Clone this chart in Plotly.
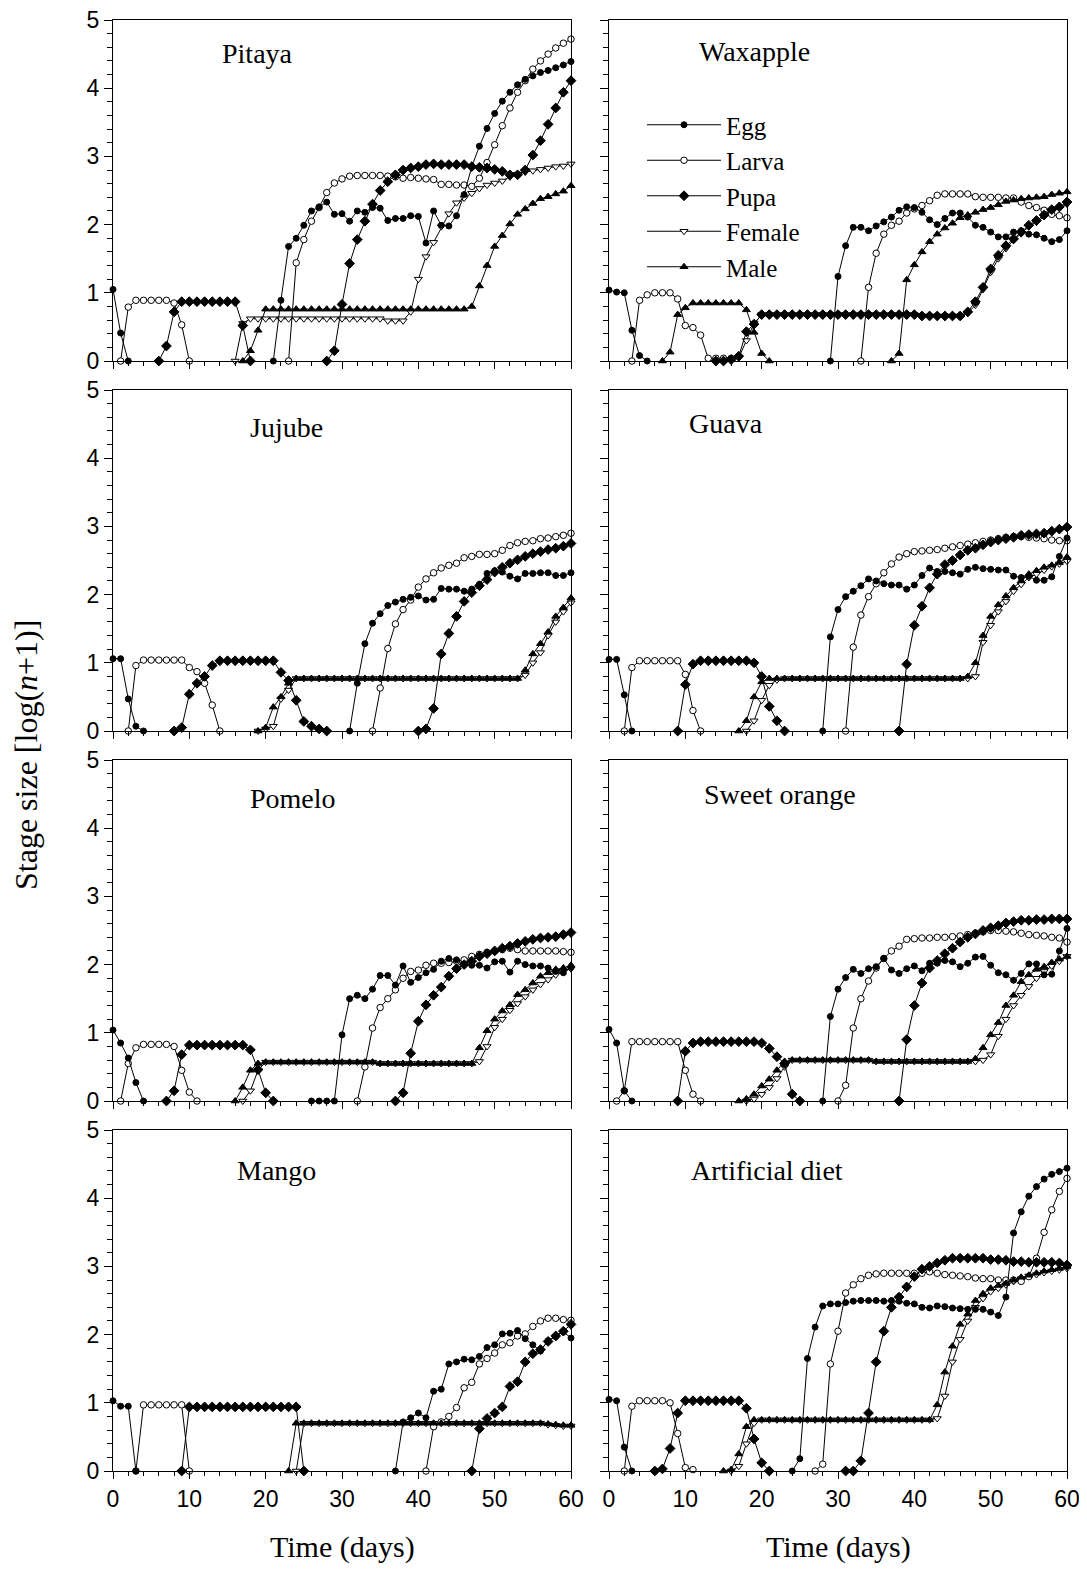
import plotly.graph_objects as go

# ---------------- data ----------------
DAYS = list(range(0, 61))
STAGES = ["Egg", "Larva", "Pupa", "Female", "Male"]
HOSTS = ["Pitaya", "Waxapple", "Jujube", "Guava", "Pomelo", "Sweet orange", "Mango", "Artificial diet"]
X_TICKS = [0, 10, 20, 30, 40, 50, 60]
Y_TICKS = [0, 1, 2, 3, 4, 5]

# each series: list of (first day, values) segments; days outside segments have no data
PITAYA_EGG = [(0, [1.05, 0.41, 0.0]),
              (21, [0.0, 0.89, 1.68, 1.80, 1.99, 2.20, 2.26, 2.33, 2.15, 2.16, 2.05, 2.20, 2.18, 2.25, 2.24, 2.06,
                    2.09, 2.09, 2.13, 2.12, 1.73, 2.20, 1.99, 1.98, 2.13, 2.44, 2.85, 3.15, 3.41, 3.63, 3.81, 3.94,
                    4.05, 4.13, 4.18, 4.23, 4.26, 4.30, 4.34, 4.39])]
PITAYA_LARVA = [(1, [0.0, 0.79, 0.89, 0.89, 0.89, 0.89, 0.89, 0.85, 0.53, 0.0]),
                (23, [0.0, 1.44, 1.78, 2.05, 2.25, 2.47, 2.61, 2.67, 2.71, 2.72, 2.72, 2.72, 2.72, 2.71, 2.70, 2.68,
                      2.69, 2.68, 2.67, 2.66, 2.59, 2.59, 2.58, 2.58, 2.56, 2.68, 2.91, 3.17, 3.45, 3.71, 3.94, 4.11,
                      4.28, 4.40, 4.50, 4.59, 4.66, 4.72])]
PITAYA_PUPA = [(6, [0.0, 0.22, 0.72, 0.87, 0.87, 0.87, 0.87, 0.87, 0.87, 0.87, 0.87, 0.52, 0.0]),
               (28, [0.0, 0.15, 0.83, 1.43, 1.78, 2.05, 2.30, 2.50, 2.63, 2.73, 2.80, 2.83, 2.85, 2.88, 2.89, 2.88,
                     2.88, 2.88, 2.88, 2.85, 2.84, 2.83, 2.81, 2.78, 2.73, 2.73, 2.80, 3.02, 3.23, 3.47, 3.71, 3.94,
                     4.11])]
PITAYA_FEMALE = [(16, [0.0, 0.55] + [0.62] * 18 + [0.59] * 3 +
                  [0.72, 1.20, 1.53, 1.74, 1.97, 2.16, 2.32, 2.39, 2.46, 2.53, 2.58, 2.61, 2.64, 2.70, 2.74, 2.77,
                   2.79, 2.81, 2.83, 2.85, 2.86, 2.89])]
PITAYA_MALE = [(17, [0.0, 0.15, 0.45] + [0.76] * 27 +
                [0.80, 1.10, 1.40, 1.68, 1.84, 2.01, 2.15, 2.23, 2.31, 2.38, 2.41, 2.45, 2.49, 2.57])]

WAXAPPLE_EGG = [(0, [1.04, 1.01, 1.00, 0.45, 0.08, 0.0]),
                (29, [0.0, 1.24, 1.69, 1.96, 1.96, 1.91, 1.98, 2.04, 2.11, 2.21, 2.26, 2.25, 2.18, 2.07, 2.00, 2.09,
                      2.17, 2.17, 2.11, 1.99, 1.96, 1.89, 1.82, 1.82, 1.89, 1.91, 1.86, 1.85, 1.80, 1.75, 1.78, 1.91])]
WAXAPPLE_LARVA = [(3, [0.0, 0.89, 0.97, 1.00, 1.00, 1.00, 0.91, 0.52, 0.49, 0.38, 0.04, 0.04, 0.04, 0.04]),
                  (33, [0.0, 1.08, 1.58, 1.86, 1.99, 2.05, 2.17, 2.23, 2.28, 2.35, 2.43, 2.45, 2.45, 2.45, 2.45, 2.41,
                        2.40, 2.40, 2.40, 2.39, 2.39, 2.33, 2.28, 2.25, 2.21, 2.15, 2.13, 2.10])]
WAXAPPLE_PUPA = [(14, [0.0, 0.0, 0.02, 0.07, 0.43, 0.54, 0.68] + [0.68] * 20 + [0.66] * 6 +
                  [0.72, 0.87, 1.08, 1.35, 1.55, 1.69, 1.79, 1.89, 1.99, 2.06, 2.14, 2.22, 2.26, 2.33])]
WAXAPPLE_FEMALE = [(15, [0.0, 0.02, 0.05, 0.30, 0.55, 0.68] + [0.68] * 20 + [0.66] * 6 +
                    [0.70, 0.82, 1.05, 1.30, 1.50, 1.65, 1.77, 1.87, 1.97, 2.04, 2.12, 2.19, 2.24, 2.30])]
WAXAPPLE_MALE = [(7, [0.0, 0.13, 0.68, 0.78, 0.85, 0.85, 0.85, 0.85, 0.85, 0.85, 0.85, 0.75, 0.42, 0.11, 0.0]),
                 (37, [0.0, 0.11, 1.19, 1.41, 1.60, 1.75, 1.86, 1.95, 2.02, 2.10, 2.14, 2.18, 2.22, 2.25, 2.29, 2.34,
                       2.36, 2.38, 2.39, 2.40, 2.41, 2.44, 2.46, 2.48])]

JUJUBE_EGG = [(0, [1.06, 1.06, 0.47, 0.07, 0.0]),
              (31, [0.0, 0.70, 1.28, 1.58, 1.72, 1.84, 1.89, 1.93, 1.96, 1.98, 1.92, 1.93, 2.09, 2.08, 2.08, 2.05,
                    2.08, 2.15, 2.31, 2.35, 2.33, 2.27, 2.23, 2.31, 2.31, 2.32, 2.32, 2.28, 2.28, 2.32])]
JUJUBE_LARVA = [(2, [0.0, 0.96, 1.04, 1.04, 1.04, 1.04, 1.04, 1.04, 0.93, 0.87, 0.70, 0.38, 0.0]),
                (34, [0.0, 0.63, 1.21, 1.57, 1.78, 1.92, 2.11, 2.23, 2.32, 2.39, 2.43, 2.46, 2.54, 2.56, 2.59, 2.59,
                      2.60, 2.65, 2.72, 2.76, 2.78, 2.79, 2.82, 2.83, 2.85, 2.87, 2.90])]
JUJUBE_PUPA = [(8, [0.0, 0.05, 0.54, 0.70, 0.80, 0.96, 1.03, 1.03, 1.03, 1.03, 1.03, 1.03, 1.03, 1.03, 0.86, 0.74,
                    0.45, 0.14, 0.07, 0.03, 0.0]),
               (40, [0.0, 0.03, 0.33, 1.13, 1.43, 1.68, 1.90, 2.03, 2.13, 2.22, 2.33, 2.40, 2.46, 2.51, 2.56, 2.60,
                     2.63, 2.66, 2.68, 2.71, 2.75])]
JUJUBE_FEMALE = [(19, [0.0, 0.03, 0.07, 0.47, 0.60] + [0.77] * 30 + [0.82, 1.00, 1.15, 1.40, 1.60, 1.75, 1.88])]
JUJUBE_MALE = [(19, [0.0, 0.05, 0.35, 0.50, 0.70] + [0.77] * 30 + [0.89, 1.13, 1.28, 1.45, 1.68, 1.81, 1.95])]

GUAVA_EGG = [(0, [1.05, 1.05, 0.53, 0.0]),
             (28, [0.0, 1.38, 1.78, 1.97, 2.05, 2.13, 2.23, 2.20, 2.16, 2.14, 2.14, 2.08, 2.14, 2.28, 2.39, 2.34,
                   2.34, 2.32, 2.30, 2.37, 2.40, 2.38, 2.37, 2.36, 2.36, 2.27, 2.25, 2.27, 2.21, 2.21, 2.26, 2.56,
                   2.83])]
GUAVA_LARVA = [(2, [0.0, 0.93, 1.03, 1.03, 1.03, 1.03, 1.03, 1.03, 0.83, 0.30, 0.0]),
               (31, [0.0, 1.23, 1.70, 1.97, 2.16, 2.32, 2.45, 2.55, 2.60, 2.63, 2.64, 2.65, 2.66, 2.68, 2.70, 2.72,
                     2.74, 2.76, 2.78, 2.80, 2.82, 2.84, 2.85, 2.85, 2.84, 2.83, 2.82, 2.80, 2.79, 2.79])]
GUAVA_PUPA = [(9, [0.0, 0.68, 0.98, 1.03, 1.03, 1.03, 1.03, 1.03, 1.03, 1.03, 1.00, 0.80, 0.36, 0.15, 0.0]),
              (38, [0.0, 0.98, 1.55, 1.83, 2.10, 2.30, 2.44, 2.50, 2.58, 2.65, 2.68, 2.73, 2.77, 2.80, 2.82, 2.84,
                    2.87, 2.88, 2.89, 2.90, 2.93, 2.96, 2.99])]
GUAVA_FEMALE = [(18, [0.0, 0.15, 0.45, 0.67, 0.75] + [0.77] * 25 +
                 [0.80, 1.30, 1.55, 1.75, 1.90, 2.05, 2.15, 2.25, 2.30, 2.36, 2.41, 2.45, 2.49])]
GUAVA_MALE = [(17, [0.0, 0.15, 0.50, 0.72] + [0.77] * 26 +
               [0.80, 1.00, 1.40, 1.68, 1.85, 1.98, 2.10, 2.20, 2.30, 2.35, 2.40, 2.43, 2.47, 2.55])]

POMELO_EGG = [(0, [1.04, 0.85, 0.63, 0.27, 0.0]),
              (26, [0.0, 0.0, 0.0, 0.0, 0.97, 1.50, 1.55, 1.50, 1.64, 1.84, 1.84, 1.70, 1.98, 1.74, 1.81, 1.88,
                    1.93, 2.05, 2.09, 2.07, 2.00, 1.99, 1.99, 1.95, 2.04, 2.05, 1.89, 2.05, 2.00, 1.98, 1.98, 1.95,
                    1.90, 1.88, 1.96])]
POMELO_LARVA = [(1, [0.0, 0.55, 0.78, 0.83, 0.83, 0.83, 0.83, 0.80, 0.45, 0.13, 0.0]),
                (32, [0.0, 0.50, 1.07, 1.37, 1.50, 1.63, 1.80, 1.90, 1.92, 1.99, 2.02, 2.02, 2.03, 2.05, 2.07, 2.12,
                      2.15, 2.18, 2.20, 2.22, 2.24, 2.22, 2.20, 2.20, 2.20, 2.20, 2.20, 2.19, 2.18])]
POMELO_PUPA = [(7, [0.0, 0.15, 0.68, 0.82, 0.82, 0.82, 0.82, 0.82, 0.82, 0.82, 0.82, 0.75, 0.46, 0.12, 0.0]),
               (37, [0.0, 0.12, 0.70, 1.17, 1.41, 1.55, 1.67, 1.83, 1.94, 2.00, 2.05, 2.12, 2.16, 2.20, 2.24, 2.27,
                     2.31, 2.34, 2.37, 2.39, 2.40, 2.41, 2.44, 2.47])]
POMELO_FEMALE = [(17, [0.0, 0.15, 0.45] + [0.57] * 15 + [0.55] * 13 +
                  [0.58, 0.80, 1.08, 1.20, 1.33, 1.43, 1.53, 1.63, 1.71, 1.78, 1.85, 1.90, 1.94])]
POMELO_MALE = [(16, [0.0, 0.20, 0.45, 0.55] + [0.57] * 15 + [0.55] * 13 +
                [0.78, 1.03, 1.20, 1.32, 1.41, 1.56, 1.63, 1.73, 1.83, 1.88, 1.93, 1.95, 1.99])]

ORANGE_EGG = [(0, [1.05, 0.85, 0.15, 0.0]),
              (28, [0.0, 1.24, 1.64, 1.81, 1.93, 1.87, 1.94, 1.97, 2.09, 1.92, 1.87, 1.94, 1.98, 1.91, 2.02, 2.02,
                    2.06, 2.04, 1.97, 2.02, 2.11, 2.12, 1.99, 1.88, 1.85, 1.77, 1.87, 2.01, 2.01, 1.85, 1.86, 2.20,
                    2.53])]
ORANGE_LARVA = [(1, [0.0, 0.15, 0.87, 0.87, 0.87, 0.87, 0.87, 0.87, 0.87, 0.45, 0.10, 0.0]),
                (30, [0.0, 0.23, 1.07, 1.50, 1.76, 1.95, 2.09, 2.20, 2.27, 2.37, 2.38, 2.39, 2.39, 2.40, 2.40, 2.41,
                      2.42, 2.44, 2.46, 2.48, 2.50, 2.50, 2.49, 2.48, 2.46, 2.44, 2.43, 2.42, 2.40, 2.39, 2.33])]
ORANGE_PUPA = [(9, [0.0, 0.73, 0.85, 0.87, 0.87, 0.87, 0.87, 0.87, 0.87, 0.87, 0.87, 0.85, 0.77, 0.65, 0.55,
                    0.10, 0.0]),
               (38, [0.0, 0.90, 1.40, 1.73, 1.95, 2.06, 2.16, 2.24, 2.33, 2.40, 2.45, 2.50, 2.54, 2.57, 2.61, 2.63,
                     2.65, 2.65, 2.66, 2.66, 2.67, 2.67, 2.67])]
ORANGE_FEMALE = [(18, [0.0, 0.03, 0.10, 0.20, 0.33, 0.50] + [0.60] * 11 + [0.58] * 14 +
                  [0.60, 0.68, 0.95, 1.20, 1.40, 1.55, 1.68, 1.80, 1.90, 1.98, 2.05, 2.12])]
ORANGE_MALE = [(17, [0.0, 0.03, 0.10, 0.22, 0.32, 0.45, 0.58] + [0.60] * 11 + [0.58] * 13 +
                [0.62, 0.78, 0.97, 1.15, 1.40, 1.55, 1.75, 1.85, 1.93, 1.97, 2.03, 2.08, 2.12])]

MANGO_EGG = [(0, [1.03, 0.95, 0.95, 0.0]),
             (37, [0.0, 0.72, 0.78, 0.85, 0.78, 1.17, 1.20, 1.57, 1.60, 1.64, 1.63, 1.68, 1.81, 1.85, 2.01, 2.02,
                   2.06, 1.94, 1.85, 1.76, 1.91, 1.97, 2.04, 1.95])]
MANGO_LARVA = [(3, [0.0, 0.97, 0.97, 0.97, 0.97, 0.97, 0.97, 0.0]),
               (41, [0.0, 0.65, 0.72, 0.80, 0.93, 1.22, 1.30, 1.57, 1.65, 1.73, 1.85, 1.88, 1.98, 2.01, 2.12, 2.20,
                     2.24, 2.24, 2.22, 2.21])]
MANGO_PUPA = [(9, [0.0] + [0.94] * 15 + [0.0]),
              (47, [0.0, 0.62, 0.77, 0.85, 0.94, 1.24, 1.31, 1.60, 1.72, 1.78, 1.90, 1.98, 2.05, 2.15])]
MANGO_FEMALE = [(24, [0.0] + [0.70] * 32 + [0.68, 0.67, 0.66, 0.66])]
MANGO_MALE = [(23, [0.0] + [0.70] * 33 + [0.69, 0.68, 0.67, 0.67])]

DIET_EGG = [(0, [1.05, 1.03, 0.35, 0.0]),
            (24, [0.0, 0.18, 1.65, 2.11, 2.42, 2.45, 2.45, 2.47, 2.49, 2.50, 2.50, 2.50, 2.49, 2.50, 2.49, 2.46,
                  2.45, 2.40, 2.39, 2.42, 2.41, 2.39, 2.38, 2.37, 2.37, 2.37, 2.33, 2.28, 2.55, 3.49, 3.80, 4.03,
                  4.17, 4.28, 4.35, 4.39, 4.44])]
DIET_LARVA = [(2, [0.0, 0.95, 1.03, 1.03, 1.03, 1.03, 1.00, 0.55, 0.05, 0.02]),
              (27, [0.0, 0.10, 1.57, 2.05, 2.61, 2.73, 2.82, 2.87, 2.89, 2.90, 2.90, 2.90, 2.90, 2.90, 2.90, 2.92,
                    2.90, 2.88, 2.87, 2.86, 2.85, 2.83, 2.82, 2.82, 2.80, 2.80, 2.80, 2.78, 2.85, 3.12, 3.50, 3.83,
                    4.10, 4.29])]
DIET_PUPA = [(6, [0.0, 0.03, 0.33, 0.85, 1.03, 1.03, 1.03, 1.03, 1.03, 1.03, 1.03, 1.03, 0.92, 0.47, 0.12, 0.0]),
             (31, [0.0, 0.0, 0.15, 0.85, 1.60, 2.05, 2.40, 2.55, 2.70, 2.85, 2.96, 3.00, 3.05, 3.09, 3.12, 3.12,
                   3.12, 3.12, 3.12, 3.10, 3.10, 3.09, 3.07, 3.07, 3.06, 3.06, 3.06, 3.06, 3.05, 3.02])]
DIET_FEMALE = [(16, [0.0, 0.07, 0.40, 0.70] + [0.75] * 23 +
                [0.77, 1.10, 1.60, 1.93, 2.20, 2.40, 2.53, 2.63, 2.68, 2.73, 2.78, 2.82, 2.86, 2.88, 2.91, 2.93,
                 2.95, 2.97])]
DIET_MALE = [(15, [0.0, 0.02, 0.25, 0.65] + [0.75] * 24 +
              [0.97, 1.45, 1.83, 2.15, 2.30, 2.50, 2.60, 2.68, 2.72, 2.75, 2.80, 2.84, 2.87, 2.90, 2.93, 2.95,
               2.97, 3.00])]

PANEL_SERIES = [
    [PITAYA_EGG, PITAYA_LARVA, PITAYA_PUPA, PITAYA_FEMALE, PITAYA_MALE],
    [WAXAPPLE_EGG, WAXAPPLE_LARVA, WAXAPPLE_PUPA, WAXAPPLE_FEMALE, WAXAPPLE_MALE],
    [JUJUBE_EGG, JUJUBE_LARVA, JUJUBE_PUPA, JUJUBE_FEMALE, JUJUBE_MALE],
    [GUAVA_EGG, GUAVA_LARVA, GUAVA_PUPA, GUAVA_FEMALE, GUAVA_MALE],
    [POMELO_EGG, POMELO_LARVA, POMELO_PUPA, POMELO_FEMALE, POMELO_MALE],
    [ORANGE_EGG, ORANGE_LARVA, ORANGE_PUPA, ORANGE_FEMALE, ORANGE_MALE],
    [MANGO_EGG, MANGO_LARVA, MANGO_PUPA, MANGO_FEMALE, MANGO_MALE],
    [DIET_EGG, DIET_LARVA, DIET_PUPA, DIET_FEMALE, DIET_MALE],
]


def expand(segments):
    vals = [None] * len(DAYS)
    for start, seg in segments:
        for i, v in enumerate(seg):
            vals[start + i] = v
    return vals


# ---------------- styling ----------------
PAGE_W, PAGE_H = 1087, 1573
BODY = 8                      # default page margin around the plot div
W, H = PAGE_W - BODY, PAGE_H - BODY
SERIF = "Liberation Serif, Times New Roman, serif"
SANS = "Liberation Sans, Arial, sans-serif"

MARKERS = {
    "Egg": dict(symbol="circle", size=6, color="black", line=dict(color="black", width=1)),
    "Larva": dict(symbol="circle", size=6.5, color="white", line=dict(color="black", width=1)),
    "Pupa": dict(symbol="diamond", size=7.5, color="black", line=dict(color="black", width=1)),
    "Female": dict(symbol="triangle-down", size=7, color="white", line=dict(color="black", width=1)),
    "Male": dict(symbol="triangle-up", size=7, color="black", line=dict(color="black", width=1)),
}
DRAW_ORDER = [3, 1, 0, 2, 4]   # female, larva, egg, pupa, male (bottom to top)

COL_X = [(113, 571), (609, 1067)]
ROW_Y = [(20, 361), (390, 731), (760, 1101), (1130, 1471)]

TITLE_POS = [(257, 53), (754, 52), (286, 427), (726, 423), (293, 798), (780, 795), (276, 1170), (767, 1170)]


def px(x):
    return (x - BODY) / W


def py(y):
    return 1 - (y - BODY) / H


fig = go.Figure()
layout = dict(
    template="none",
    width=W, height=H,
    margin=dict(l=0, r=0, t=0, b=0, pad=0, autoexpand=False),
    paper_bgcolor="white", plot_bgcolor="white",
    showlegend=True,
    hovermode=False,
    legend=dict(x=px(642), y=py(102), xanchor="left", yanchor="top",
                font=dict(family=SERIF, size=25, color="black"),
                bgcolor="rgba(0,0,0,0)", borderwidth=0, tracegroupgap=0, itemwidth=74),
)
annotations = []

for p, host in enumerate(HOSTS):
    row, col = divmod(p, 2)
    n = p + 1
    xa = "x" if n == 1 else f"x{n}"
    ya = "y" if n == 1 else f"y{n}"
    x0, x1 = COL_X[col]
    ytop, ybot = ROW_Y[row]
    axis_common = dict(showgrid=False, zeroline=False, showline=True, linecolor="black", linewidth=1,
                       mirror=True, ticks="outside", tickcolor="black", tickwidth=1, automargin=False,
                       ticklabeloverflow="allow",
                       tickfont=dict(family=SANS, size=23, color="black"))
    layout["xaxis" + ("" if n == 1 else str(n))] = dict(
        axis_common, domain=[px(x0), px(x1)], anchor=ya, range=[0, 60],
        tickmode="array", tickvals=X_TICKS, ticklen=7,
        minor=dict(dtick=2, ticklen=4, ticks="outside", tickcolor="black", tickwidth=1, showgrid=False),
        showticklabels=(row == 3),
    )
    layout["yaxis" + ("" if n == 1 else str(n))] = dict(
        axis_common, domain=[py(ybot), py(ytop)], anchor=xa, range=[0, 5],
        tickmode="array", tickvals=Y_TICKS, ticklen=8,
        minor=dict(dtick=0.2, ticklen=5, ticks="outside", tickcolor="black", tickwidth=1, showgrid=False),
        showticklabels=(col == 0),
    )
    for s in DRAW_ORDER:
        stage = STAGES[s]
        fig.add_trace(go.Scatter(
            x=DAYS, y=expand(PANEL_SERIES[p][s]), xaxis=xa, yaxis=ya,
            mode="lines+markers", name=stage, legendrank=s + 1,
            line=dict(color="black", width=1),
            marker=MARKERS[stage], cliponaxis=False,
            showlegend=(p == 1), connectgaps=False,
        ))
    tx, ty = TITLE_POS[p]
    annotations.append(dict(text=host, x=px(tx), y=py(ty), xref="paper", yref="paper",
                            showarrow=False, xanchor="center", yanchor="middle",
                            font=dict(family=SERIF, size=28, color="black")))

annotations.append(dict(text="Stage size [log(<i>n</i>+1)]", x=px(26), y=py(755), xref="paper", yref="paper",
                        textangle=-90, showarrow=False, xanchor="center", yanchor="middle",
                        font=dict(family=SERIF, size=32, color="black")))
for cx in (342, 838):
    annotations.append(dict(text="Time (days)", x=px(cx), y=py(1547), xref="paper", yref="paper",
                            showarrow=False, xanchor="center", yanchor="middle",
                            font=dict(family=SERIF, size=30, color="black")))

layout["annotations"] = annotations
fig.update_layout(**layout)
fig.write_html("out.html")
